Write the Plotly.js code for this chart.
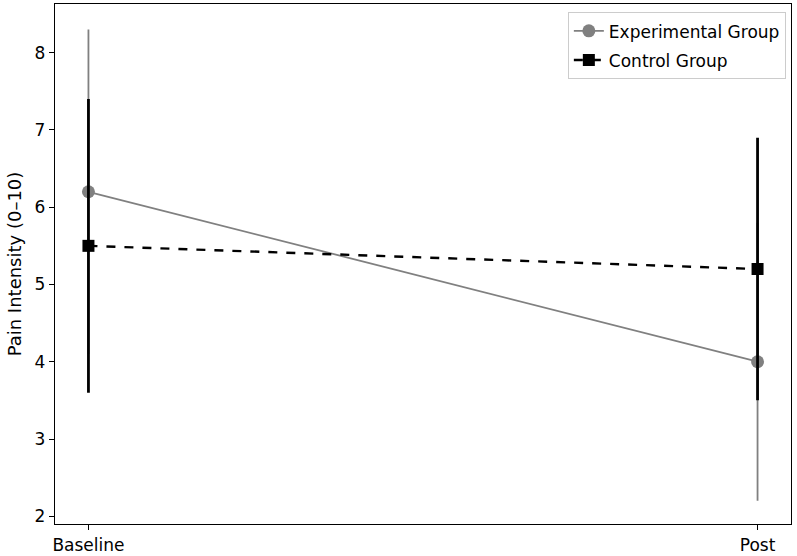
<!DOCTYPE html>
<html>
<head>
<meta charset="utf-8">
<script src="https://cdn.plot.ly/plotly-3.0.1.min.js"></script>
<style>html,body{margin:0;padding:0;background:#fff;}#chart{width:797px;height:556px;}</style>
</head>
<body>
<div id="chart"></div>
<script>
const timepoints = ["Baseline", "Post"];
const expMean = [6.2, 4.0];
const expErr = [2.1, 1.8];
const ctrlMean = [5.5, 5.2];
const ctrlErr = [1.9, 1.7];
const xIdx = [0, 1];

const traces = [
  {
    x: xIdx, y: expMean, name: "Experimental Group", type: "scatter", mode: "lines+markers",
    legendgroup: "a",
    line: {color: "#808080", width: 1.8},
    marker: {symbol: "circle", size: 13, color: "#808080"},
    error_y: {type: "data", array: expErr, visible: true, color: "#808080", thickness: 1.8, width: 0}
  },
  {
    x: xIdx, y: ctrlMean, name: "Control Group", type: "scatter", mode: "lines+markers",
    legendgroup: "b",
    line: {color: "#000000", width: 2.4, dash: "dash"},
    marker: {symbol: "square", size: 12, color: "#000000"},
    error_y: {type: "data", array: ctrlErr, visible: true, color: "#000000", thickness: 2.8, width: 0}
  }
];

const layout = {
  width: 797, height: 556,
  margin: {l: 55, r: 6, t: 4, b: 32},
  paper_bgcolor: "#fff", plot_bgcolor: "#fff",
  font: {family: "DejaVu Sans, sans-serif", size: 17, color: "#000"},
  showlegend: true,
  legend: {
    x: 0.993, y: 0.984, xanchor: "right", yanchor: "top",
    bgcolor: "rgba(255,255,255,0.8)", bordercolor: "#cccccc", borderwidth: 1,
    font: {size: 17}, tracegroupgap: 4, traceorder: "grouped"
  },
  xaxis: {
    range: [-0.05, 1.05], tickvals: xIdx, ticktext: timepoints,
    showgrid: false, zeroline: false, showline: true, mirror: true, linecolor: "#000", linewidth: 1.2,
    ticks: "outside", ticklen: 5, tickcolor: "#000", tickfont: {size: 17}
  },
  yaxis: {
    range: [1.9, 8.63], dtick: 1, tick0: 2,
    title: {text: "Pain Intensity (0–10)", font: {size: 18}, standoff: 8},
    showgrid: false, zeroline: false, showline: true, mirror: true, linecolor: "#000", linewidth: 1.2,
    ticks: "outside", ticklen: 5, tickcolor: "#000", tickfont: {size: 17}
  }
};

Plotly.newPlot("chart", traces, layout, {displayModeBar: false, staticPlot: true});
</script>
</body>
</html>
